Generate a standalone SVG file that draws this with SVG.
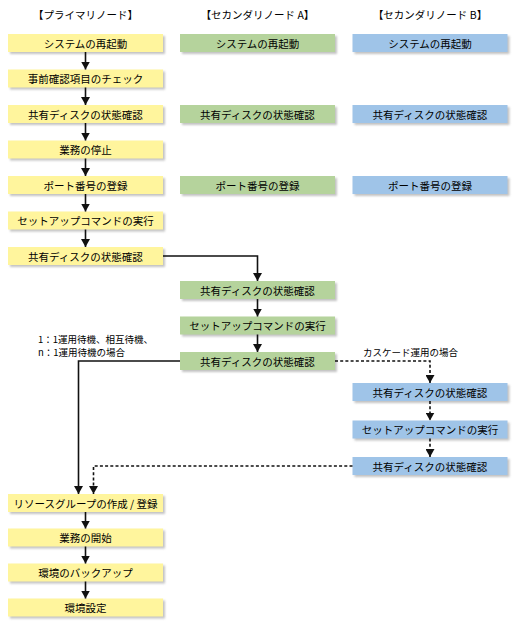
<svg xmlns="http://www.w3.org/2000/svg" width="517" height="625" viewBox="0 0 517 625">
<style>
text{font-family:"Noto Sans CJK JP","Noto Sans",sans-serif;fill:#000}
.h{font-size:10.5px;text-anchor:middle}
.t{font-size:10.5px;text-anchor:middle;dominant-baseline:central}
.l{font-size:9.5px}
.sh{fill:#b4b4b4;opacity:0.8}
.p{fill:#fff59d}
.a{fill:#b5d39c}
.b{fill:#9fc4e8}
.c{fill:none;stroke:#111;stroke-width:1.6}
.d{stroke-dasharray:3 2.2}
</style>
<defs>
<marker id="ar" markerUnits="userSpaceOnUse" markerWidth="8" markerHeight="9" viewBox="0 0 8 9" refX="8" refY="4.5" orient="auto">
<path d="M0,0 L8,4.5 L0,9 Z" fill="#111"/>
</marker>
<filter id="bl" x="-5%" y="-20%" width="110%" height="140%"><feGaussianBlur stdDeviation="0.8"/></filter>
</defs>

<text class="h" x="85.5" y="19">【プライマリノード】</text>
<text class="h" x="257.5" y="19">【セカンダリノード A】</text>
<text class="h" x="430" y="19">【セカンダリノード B】</text>

<g id="p1"><rect class="sh" x="10" y="36" width="155" height="18" filter="url(#bl)"/><rect class="p" x="8" y="34" width="155" height="18"/><text class="t" x="85.5" y="43">システムの再起動</text></g>
<g id="p2"><rect class="sh" x="10" y="71.5" width="155" height="18" filter="url(#bl)"/><rect class="p" x="8" y="69.5" width="155" height="18"/><text class="t" x="85.5" y="78.5">事前確認項目のチェック</text></g>
<g id="p3"><rect class="sh" x="10" y="107" width="155" height="18" filter="url(#bl)"/><rect class="p" x="8" y="105" width="155" height="18"/><text class="t" x="85.5" y="114">共有ディスクの状態確認</text></g>
<g id="p4"><rect class="sh" x="10" y="142.5" width="155" height="18" filter="url(#bl)"/><rect class="p" x="8" y="140.5" width="155" height="18"/><text class="t" x="85.5" y="149.5">業務の停止</text></g>
<g id="p5"><rect class="sh" x="10" y="178" width="155" height="18" filter="url(#bl)"/><rect class="p" x="8" y="176" width="155" height="18"/><text class="t" x="85.5" y="185">ポート番号の登録</text></g>
<g id="p6"><rect class="sh" x="10" y="213.5" width="155" height="18" filter="url(#bl)"/><rect class="p" x="8" y="211.5" width="155" height="18"/><text class="t" x="85.5" y="220.5">セットアップコマンドの実行</text></g>
<g id="p7"><rect class="sh" x="10" y="249" width="155" height="18" filter="url(#bl)"/><rect class="p" x="8" y="247" width="155" height="18"/><text class="t" x="85.5" y="256">共有ディスクの状態確認</text></g>
<g id="p8"><rect class="sh" x="10" y="496" width="155" height="18" filter="url(#bl)"/><rect class="p" x="8" y="494" width="155" height="18"/><text class="t" x="85.5" y="503">リソースグループの作成 / 登録</text></g>
<g id="p9"><rect class="sh" x="10" y="530.5" width="155" height="18" filter="url(#bl)"/><rect class="p" x="8" y="528.5" width="155" height="18"/><text class="t" x="85.5" y="537.5">業務の開始</text></g>
<g id="p10"><rect class="sh" x="10" y="565.5" width="155" height="18" filter="url(#bl)"/><rect class="p" x="8" y="563.5" width="155" height="18"/><text class="t" x="85.5" y="572.5">環境のバックアップ</text></g>
<g id="p11"><rect class="sh" x="10" y="600.5" width="155" height="18" filter="url(#bl)"/><rect class="p" x="8" y="598.5" width="155" height="18"/><text class="t" x="85.5" y="607.5">環境設定</text></g>

<g id="a1"><rect class="sh" x="182" y="36" width="155" height="18" filter="url(#bl)"/><rect class="a" x="180" y="34" width="155" height="18"/><text class="t" x="257.5" y="43">システムの再起動</text></g>
<g id="a2"><rect class="sh" x="182" y="107" width="155" height="18" filter="url(#bl)"/><rect class="a" x="180" y="105" width="155" height="18"/><text class="t" x="257.5" y="114">共有ディスクの状態確認</text></g>
<g id="a3"><rect class="sh" x="182" y="178" width="155" height="18" filter="url(#bl)"/><rect class="a" x="180" y="176" width="155" height="18"/><text class="t" x="257.5" y="185">ポート番号の登録</text></g>
<g id="a4"><rect class="sh" x="182" y="283" width="155" height="18" filter="url(#bl)"/><rect class="a" x="180" y="281" width="155" height="18"/><text class="t" x="257.5" y="290">共有ディスクの状態確認</text></g>
<g id="a5"><rect class="sh" x="182" y="318.5" width="155" height="18" filter="url(#bl)"/><rect class="a" x="180" y="316.5" width="155" height="18"/><text class="t" x="257.5" y="325.5">セットアップコマンドの実行</text></g>
<g id="a6"><rect class="sh" x="182" y="354" width="155" height="18" filter="url(#bl)"/><rect class="a" x="180" y="352" width="155" height="18"/><text class="t" x="257.5" y="361">共有ディスクの状態確認</text></g>

<g id="b1"><rect class="sh" x="354.5" y="36" width="155" height="18" filter="url(#bl)"/><rect class="b" x="352.5" y="34" width="155" height="18"/><text class="t" x="430" y="43">システムの再起動</text></g>
<g id="b2"><rect class="sh" x="354.5" y="107" width="155" height="18" filter="url(#bl)"/><rect class="b" x="352.5" y="105" width="155" height="18"/><text class="t" x="430" y="114">共有ディスクの状態確認</text></g>
<g id="b3"><rect class="sh" x="354.5" y="178" width="155" height="18" filter="url(#bl)"/><rect class="b" x="352.5" y="176" width="155" height="18"/><text class="t" x="430" y="185">ポート番号の登録</text></g>
<g id="b4"><rect class="sh" x="354.5" y="385" width="155" height="18" filter="url(#bl)"/><rect class="b" x="352.5" y="383" width="155" height="18"/><text class="t" x="430" y="392">共有ディスクの状態確認</text></g>
<g id="b5"><rect class="sh" x="354.5" y="422.5" width="155" height="18" filter="url(#bl)"/><rect class="b" x="352.5" y="420.5" width="155" height="18"/><text class="t" x="430" y="429.5">セットアップコマンドの実行</text></g>
<g id="b6"><rect class="sh" x="354.5" y="459" width="155" height="18" filter="url(#bl)"/><rect class="b" x="352.5" y="457" width="155" height="18"/><text class="t" x="430" y="466">共有ディスクの状態確認</text></g>

<g id="labels">
<text class="l" x="38" y="343">1：1運用待機、相互待機、</text>
<text class="l" x="38" y="356">n：1運用待機の場合</text>
<text class="l" x="363" y="356">カスケード運用の場合</text>
</g>

<g id="connectors">
<path class="c" d="M85.5,52 V69.5" marker-end="url(#ar)"/>
<path class="c" d="M85.5,87.5 V105" marker-end="url(#ar)"/>
<path class="c" d="M85.5,123 V140.5" marker-end="url(#ar)"/>
<path class="c" d="M85.5,158.5 V176" marker-end="url(#ar)"/>
<path class="c" d="M85.5,194 V211.5" marker-end="url(#ar)"/>
<path class="c" d="M85.5,229.5 V247" marker-end="url(#ar)"/>
<path class="c" d="M163,256 H257.5 V281" marker-end="url(#ar)"/>
<path class="c" d="M257.5,299 V316.5" marker-end="url(#ar)"/>
<path class="c" d="M257.5,334.5 V352" marker-end="url(#ar)"/>
<path class="c" d="M180,361 H78.5 V494" marker-end="url(#ar)"/>
<path class="c d" d="M335,361 H430 V383" marker-end="url(#ar)"/>
<path class="c d" d="M430,401 V420.5" marker-end="url(#ar)"/>
<path class="c d" d="M430,438.5 V457" marker-end="url(#ar)"/>
<path class="c d" d="M352.5,466 H93.5 V494" marker-end="url(#ar)"/>
<path class="c" d="M85.5,512 V528.5" marker-end="url(#ar)"/>
<path class="c" d="M85.5,546.5 V563.5" marker-end="url(#ar)"/>
<path class="c" d="M85.5,581.5 V598.5" marker-end="url(#ar)"/>
</g>
</svg>
